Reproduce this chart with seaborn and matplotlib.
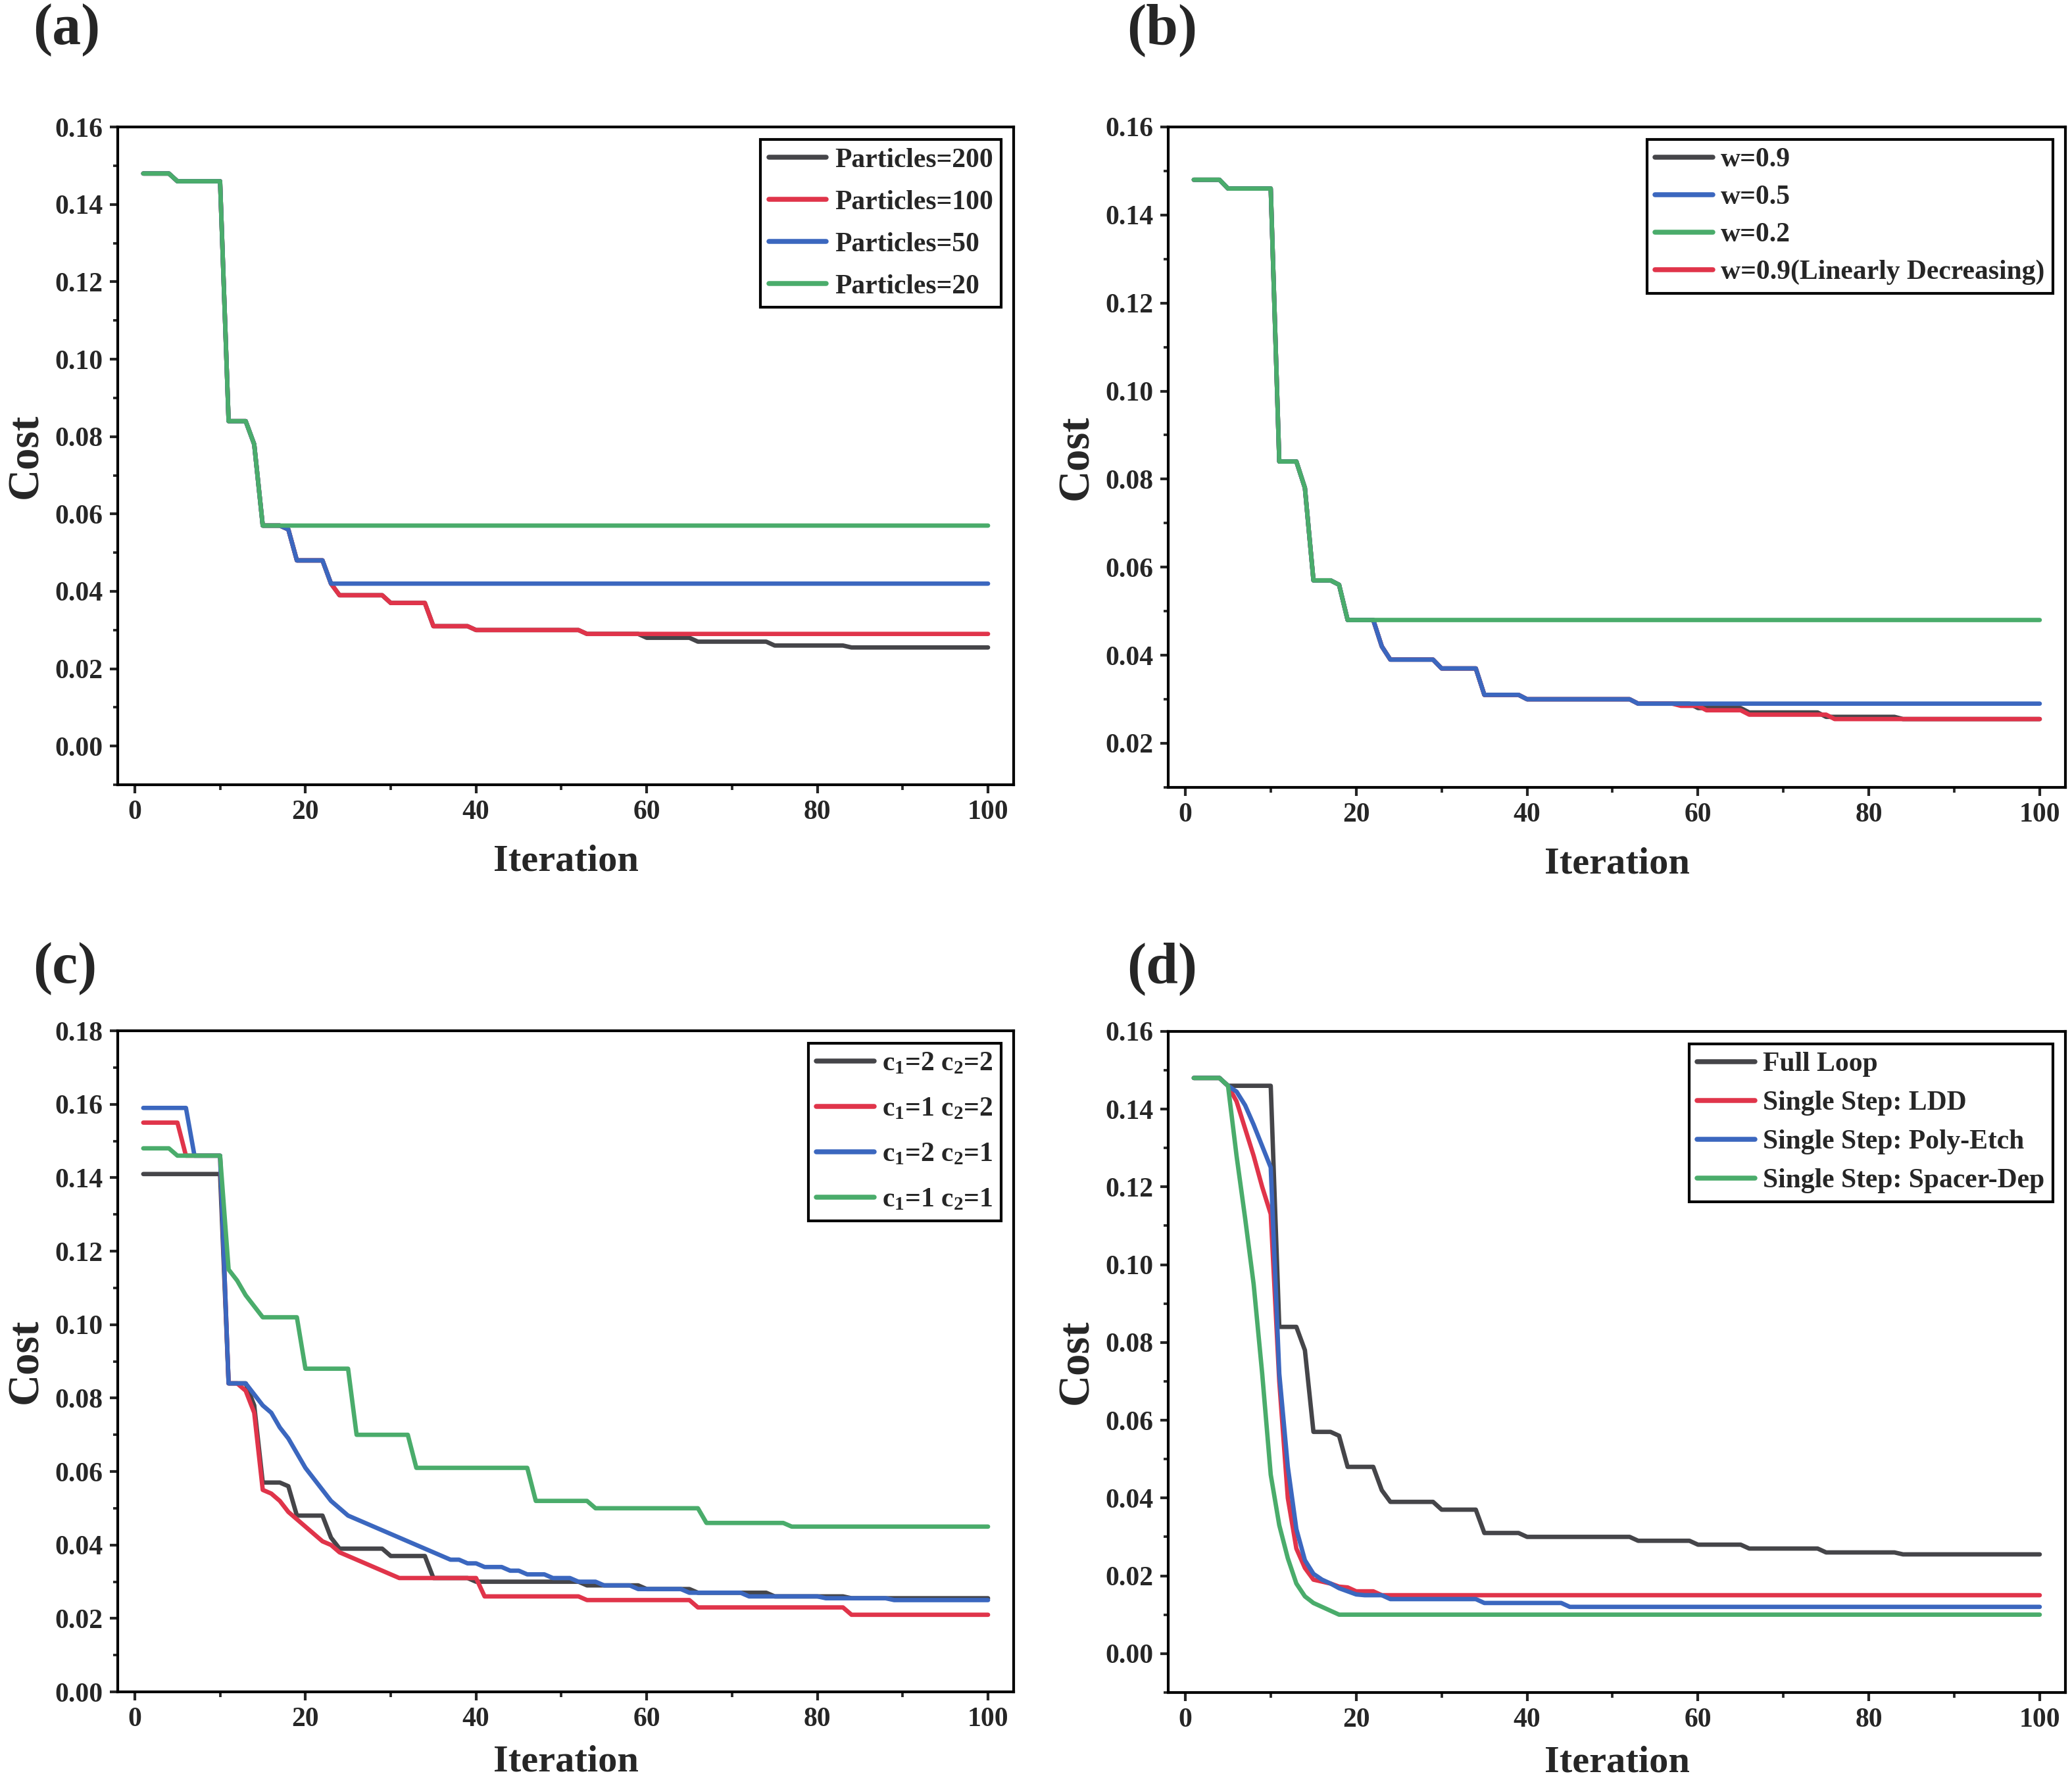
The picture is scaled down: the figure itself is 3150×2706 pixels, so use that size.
import numpy as np
import matplotlib
matplotlib.use('Agg')
import matplotlib.pyplot as plt
import seaborn as sns
from matplotlib.ticker import MultipleLocator, AutoMinorLocator, FormatStrFormatter

# iterations shared by every curve
ITERATIONS = np.arange(1, 101)

# each curve is stored as runs of (cost, number of iterations)
FULL_LOOP = [(0.148, 4), (0.146, 6), (0.084, 3), (0.078, 1), (0.057, 3), (0.056, 1),
             (0.048, 4), (0.042, 1), (0.039, 6), (0.037, 5), (0.031, 5), (0.030, 13),
             (0.029, 7), (0.028, 6), (0.027, 9), (0.026, 9), (0.0255, 17)]

# (a) swarm size
PARTICLES_200 = FULL_LOOP
PARTICLES_100 = [(0.148, 4), (0.146, 6), (0.084, 3), (0.078, 1), (0.057, 3), (0.056, 1),
                 (0.048, 4), (0.042, 1), (0.039, 6), (0.037, 5), (0.031, 5), (0.030, 13),
                 (0.029, 48)]
PARTICLES_50 = [(0.148, 4), (0.146, 6), (0.084, 3), (0.078, 1), (0.057, 3), (0.056, 1),
                (0.048, 4), (0.042, 78)]
PARTICLES_20 = [(0.148, 4), (0.146, 6), (0.084, 3), (0.078, 1), (0.057, 86)]

# (b) inertia weight
W_09 = FULL_LOOP
W_05 = PARTICLES_100
W_02 = [(0.148, 4), (0.146, 6), (0.084, 3), (0.078, 1), (0.057, 3), (0.056, 1), (0.048, 82)]
W_09_LD = [(0.148, 4), (0.146, 6), (0.084, 3), (0.078, 1), (0.057, 3), (0.056, 1),
           (0.048, 4), (0.042, 1), (0.039, 6), (0.037, 5), (0.031, 5), (0.030, 13),
           (0.029, 5), (0.0285, 3), (0.0275, 5), (0.0265, 10), (0.0255, 25)]

# (c) acceleration coefficients
C1_2_C2_2 = [(0.141, 10), (0.084, 3), (0.078, 1), (0.057, 3), (0.056, 1), (0.048, 4),
             (0.042, 1), (0.039, 6), (0.037, 5), (0.031, 5), (0.030, 13), (0.029, 7),
             (0.028, 6), (0.027, 9), (0.026, 9), (0.0255, 17)]
C1_1_C2_2 = [(0.155, 5), (0.146, 5), (0.084, 2), (0.082, 1), (0.076, 1), (0.055, 1),
             (0.054, 1), (0.052, 1), (0.049, 1), (0.047, 1), (0.045, 1), (0.043, 1),
             (0.041, 1), (0.040, 1), (0.038, 1), (0.037, 1), (0.036, 1), (0.035, 1),
             (0.034, 1), (0.033, 1), (0.032, 1), (0.031, 10), (0.026, 12), (0.025, 13),
             (0.023, 18), (0.021, 17)]
C1_2_C2_1 = [(0.159, 6), (0.146, 4), (0.084, 3), (0.081, 1), (0.078, 1), (0.076, 1),
             (0.072, 1), (0.069, 1), (0.065, 1), (0.061, 1), (0.058, 1), (0.055, 1),
             (0.052, 1), (0.050, 1), (0.048, 1), (0.047, 1), (0.046, 1), (0.045, 1),
             (0.044, 1), (0.043, 1), (0.042, 1), (0.041, 1), (0.040, 1), (0.039, 1),
             (0.038, 1), (0.037, 1), (0.036, 2), (0.035, 2), (0.034, 3), (0.033, 2),
             (0.032, 3), (0.031, 3), (0.030, 3), (0.029, 4), (0.028, 6), (0.027, 7),
             (0.026, 9), (0.0255, 8), (0.025, 12)]
C1_1_C2_1 = [(0.148, 4), (0.146, 6), (0.115, 1), (0.112, 1), (0.108, 1), (0.105, 1),
             (0.102, 5), (0.088, 6), (0.070, 7), (0.061, 14), (0.052, 7), (0.050, 13),
             (0.046, 10), (0.045, 24)]

# (d) full loop vs single steps
STEP_LDD = [(0.148, 4), (0.146, 1), (0.142, 1), (0.135, 1), (0.128, 1), (0.120, 1),
            (0.113, 1), (0.070, 1), (0.040, 1), (0.027, 1), (0.022, 1), (0.019, 1),
            (0.0185, 1), (0.018, 1), (0.0172, 1), (0.017, 1), (0.016, 3), (0.015, 78)]
STEP_POLY_ETCH = [(0.148, 4), (0.146, 1), (0.1445, 1), (0.141, 1), (0.136, 1), (0.1305, 1),
                  (0.125, 1), (0.072, 1), (0.048, 1), (0.032, 1), (0.024, 1), (0.0205, 1),
                  (0.019, 1), (0.018, 1), (0.0168, 1), (0.016, 1), (0.0152, 1), (0.015, 3),
                  (0.014, 11), (0.013, 10), (0.012, 56)]
STEP_SPACER_DEP = [(0.148, 4), (0.146, 1), (0.128, 1), (0.112, 1), (0.095, 1), (0.072, 1),
                   (0.046, 1), (0.033, 1), (0.0245, 1), (0.018, 1), (0.0147, 1), (0.013, 1),
                   (0.012, 1), (0.011, 1), (0.010, 83)]

BLACK = '#454549'
RED = '#e0344a'
BLUE = '#3b67bf'
GREEN = '#4aac6b'


def expand(runs):
    values = np.repeat([v for v, n in runs], [n for v, n in runs])
    assert len(values) == len(ITERATIONS)
    return values


sns.set_theme(style='ticks')
plt.rcParams['font.family'] = ['Liberation Serif', 'DejaVu Serif']
plt.rcParams['font.weight'] = 'bold'
plt.rcParams['axes.labelweight'] = 'bold'
plt.rcParams['mathtext.fontset'] = 'custom'
plt.rcParams['mathtext.rm'] = 'Liberation Serif:bold'
plt.rcParams['mathtext.it'] = 'Liberation Serif:bold:italic'
plt.rcParams['mathtext.bf'] = 'Liberation Serif:bold'

# tag, tag position, axes position, ylim, series in drawing order, legend order,
# legend row spacing, xlabel offset
panels = [
    ('(a)', (0.0159, 0.998), [0.0568, 0.5591, 0.4324, 0.3695], (-0.01, 0.16),
     [('Particles=200', PARTICLES_200, BLACK), ('Particles=100', PARTICLES_100, RED),
      ('Particles=50', PARTICLES_50, BLUE), ('Particles=20', PARTICLES_20, GREEN)],
     [0, 1, 2, 3], 0.62, -0.09),
    ('(b)', (0.544, 0.998), [0.5638, 0.5577, 0.4330, 0.3710], (0.01, 0.16),
     [('w=0.9', W_09, BLACK), ('w=0.9(Linearly Decreasing)', W_09_LD, RED),
      ('w=0.5', W_05, BLUE), ('w=0.2', W_02, GREEN)],
     [0, 2, 3, 1], 0.45, -0.09),
    ('(c)', (0.0159, 0.4708), [0.0568, 0.0495, 0.4324, 0.3714], (0.0, 0.18),
     [(r'c$_{1}$=2 c$_{2}$=2', C1_2_C2_2, BLACK), (r'c$_{1}$=1 c$_{2}$=2', C1_1_C2_2, RED),
      (r'c$_{1}$=2 c$_{2}$=1', C1_2_C2_1, BLUE), (r'c$_{1}$=1 c$_{2}$=1', C1_1_C2_1, GREEN)],
     [0, 1, 2, 3], 0.74, -0.08),
    ('(d)', (0.544, 0.4708), [0.5638, 0.0492, 0.4330, 0.3714], (-0.01, 0.16),
     [('Full Loop', FULL_LOOP, BLACK), ('Single Step: LDD', STEP_LDD, RED),
      ('Single Step: Poly-Etch', STEP_POLY_ETCH, BLUE),
      ('Single Step: Spacer-Dep', STEP_SPACER_DEP, GREEN)],
     [0, 1, 2, 3], 0.5, -0.08),
]

fig = plt.figure(figsize=(10.5, 9.02), dpi=300)

for tag, tag_xy, pos, ylim, series, legend_order, spacing, xlab_y in panels:
    ax = fig.add_axes(pos)
    for label, runs, colour in series:
        sns.lineplot(x=ITERATIONS, y=expand(runs), ax=ax, color=colour,
                     linewidth=1.6, label=label)

    ax.set_xlim(-2, 103)
    ax.set_ylim(*ylim)
    ax.xaxis.set_major_locator(MultipleLocator(20))
    ax.xaxis.set_minor_locator(AutoMinorLocator(2))
    ax.yaxis.set_major_locator(MultipleLocator(0.02))
    ax.yaxis.set_minor_locator(AutoMinorLocator(2))
    ax.yaxis.set_major_formatter(FormatStrFormatter('%.2f'))
    ax.tick_params(which='major', direction='out', length=3, width=1.0,
                   labelsize=10, pad=2.5)
    ax.tick_params(which='minor', direction='out', length=1.8, width=0.9)
    for side in ['top', 'right', 'left', 'bottom']:
        ax.spines[side].set_visible(True)
        ax.spines[side].set_linewidth(1.0)
        ax.spines[side].set_color('black')

    ax.set_xlabel('Iteration', fontsize=14)
    ax.set_ylabel('Cost', fontsize=16)
    ax.xaxis.set_label_coords(0.5, xlab_y)
    ax.yaxis.set_label_coords(-0.08, 0.5)

    handles, labels = ax.get_legend_handles_labels()
    leg = ax.legend([handles[i] for i in legend_order], [labels[i] for i in legend_order],
                    loc='upper right', fontsize=10, frameon=True, fancybox=False,
                    edgecolor='black', framealpha=1, borderpad=0.3, labelspacing=spacing,
                    handlelength=2.1, handletextpad=0.3, borderaxespad=0.45)
    leg.get_frame().set_linewidth(1.0)
    for line in leg.get_lines():
        line.set_linewidth(1.8)

    fig.text(tag_xy[0], tag_xy[1], tag, fontsize=21, fontweight='bold',
             ha='left', va='top')

fig.savefig('out.png', dpi=300)
plt.close(fig)
